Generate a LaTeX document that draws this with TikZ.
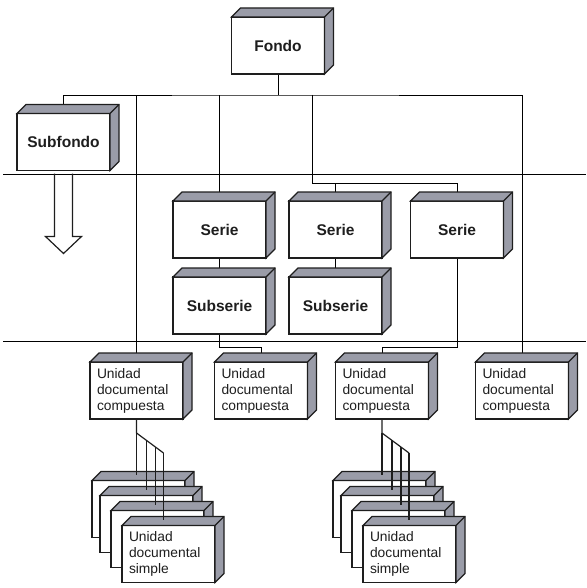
\documentclass[tikz,border=0pt]{standalone}
\usepackage{fontspec}
\setsansfont{Liberation Sans}
\usetikzlibrary{calc,backgrounds}
\definecolor{tinta}{HTML}{1E1E1E}
\definecolor{gris}{HTML}{9A9CA8}

% top and side faces of a 3D block
\newcommand{\caras}[1]{%
  \filldraw[cara] (#1.north west) -- ++(9,-9) -- ([shift={(9,-9)}]#1.north east)
    -- ([shift={(9,-9)}]#1.south east) -- (#1.south east) -- (#1.north east) -- cycle;
  \draw (#1.north east) -- ++(9,-9);%
}

\begin{document}
\begin{tikzpicture}[
  x=1pt, y=-1pt,
  font=\sffamily,
  line width=1.2pt,
  color=tinta,
  bloque/.style={
    draw,
    fill=white,
    minimum width=93pt,
    minimum height=57pt,
    inner sep=0pt,
    outer sep=0pt,
    font=\sffamily\bfseries\fontsize{15.5}{18}\selectfont
  },
  unidad/.style={
    bloque,
    align=left,
    text width=79pt,
    font=\sffamily\fontsize{13.8}{16}\selectfont
  },
  cara/.style={fill=gris}
]
\useasboundingbox (0,0) rectangle (586,588);

% Fondo and Subfondo
\node[bloque] (fondo) at (278,45.5) {Fondo};
\node[bloque] (subfondo) at (63.5,142) {Subfondo};

% Series
\node[bloque] (serieA) at (219.5,229.5) {Serie};
\node[bloque] (serieB) at (335.5,229.5) {Serie};
\node[bloque] (serieC) at (457,229.5) {Serie};
\node[bloque] (subserieA) at (219.5,305.5) {Subserie};
\node[bloque] (subserieB) at (335.5,305.5) {Subserie};

% Compound units
\node[unidad] (udcA) at (136.5,390.5) {Unidad\\documental\\compuesta};
\node[unidad] (udcB) at (261,390.5) {Unidad\\documental\\compuesta};
\node[unidad] (udcC) at (382,390.5) {Unidad\\documental\\compuesta};
\node[unidad] (udcD) at (522,390.5) {Unidad\\documental\\compuesta};

\foreach \n in {fondo,subfondo,serieA,serieB,serieC,subserieA,subserieB,udcA,udcB,udcC,udcD}
  {\caras{\n}}

\begin{scope}[on background layer]
  \draw (3,174) -- (586,174);
  \draw (3,341) -- (586,341);
  \draw (fondo.south) -- ++(0,21) coordinate (bus);
  \draw (subfondo.north) |- (bus) -| (udcD.north);
  \draw (udcA.north) -- (udcA.north |- bus);
  \draw (serieA.north) -- (serieA.north |- bus);
  \coordinate (ramal) at (312,183);
  \draw (ramal |- bus) -- (ramal) -| (serieC.north);
  \draw (serieB.north) -- (serieB.north |- ramal);
  \draw (serieA) -- (subserieA);
  \draw (serieB) -- (subserieB);
  \draw (subserieA.south) -- ++(0,13) -| (udcB.north);
  \draw (serieC.south) -- ++(0,89) -| (udcC.north);
\end{scope}

% hollow arrow under Subfondo
\draw (subfondo.south) ++(-9,3) -- ++(0,63) -- ++(-9,0) -- ++(18,17)
  -- ++(18,-17) -- ++(-9,0) -- ++(0,-63);

% stacks of simple units
\foreach \u/\s/\x in {udcA/sA/138.5, udcC/sC/379.5}{
  \draw (\u.south) -- ++(0,14) coordinate (\s0) -- ++(27,20);
  \foreach \k/\dx/\ox/\oy/\txt in {1/0/0/0/{}, 2/10/8/15/{}, 3/19/19/30/{},
      4/27/30/45/{Unidad\\documental\\simple}}{
    \node[unidad] (\s\k) at (\x+\ox,509+\oy) {\txt};
    \caras{\s\k}
    \coordinate (p) at ($(\s0)+(\dx,\dx*20/27)$);
    \coordinate (q) at ($(\s\k.north)+(0,-6)$);
    \draw (p) -- (p |- q);
  }
}
\end{tikzpicture}
\end{document}
